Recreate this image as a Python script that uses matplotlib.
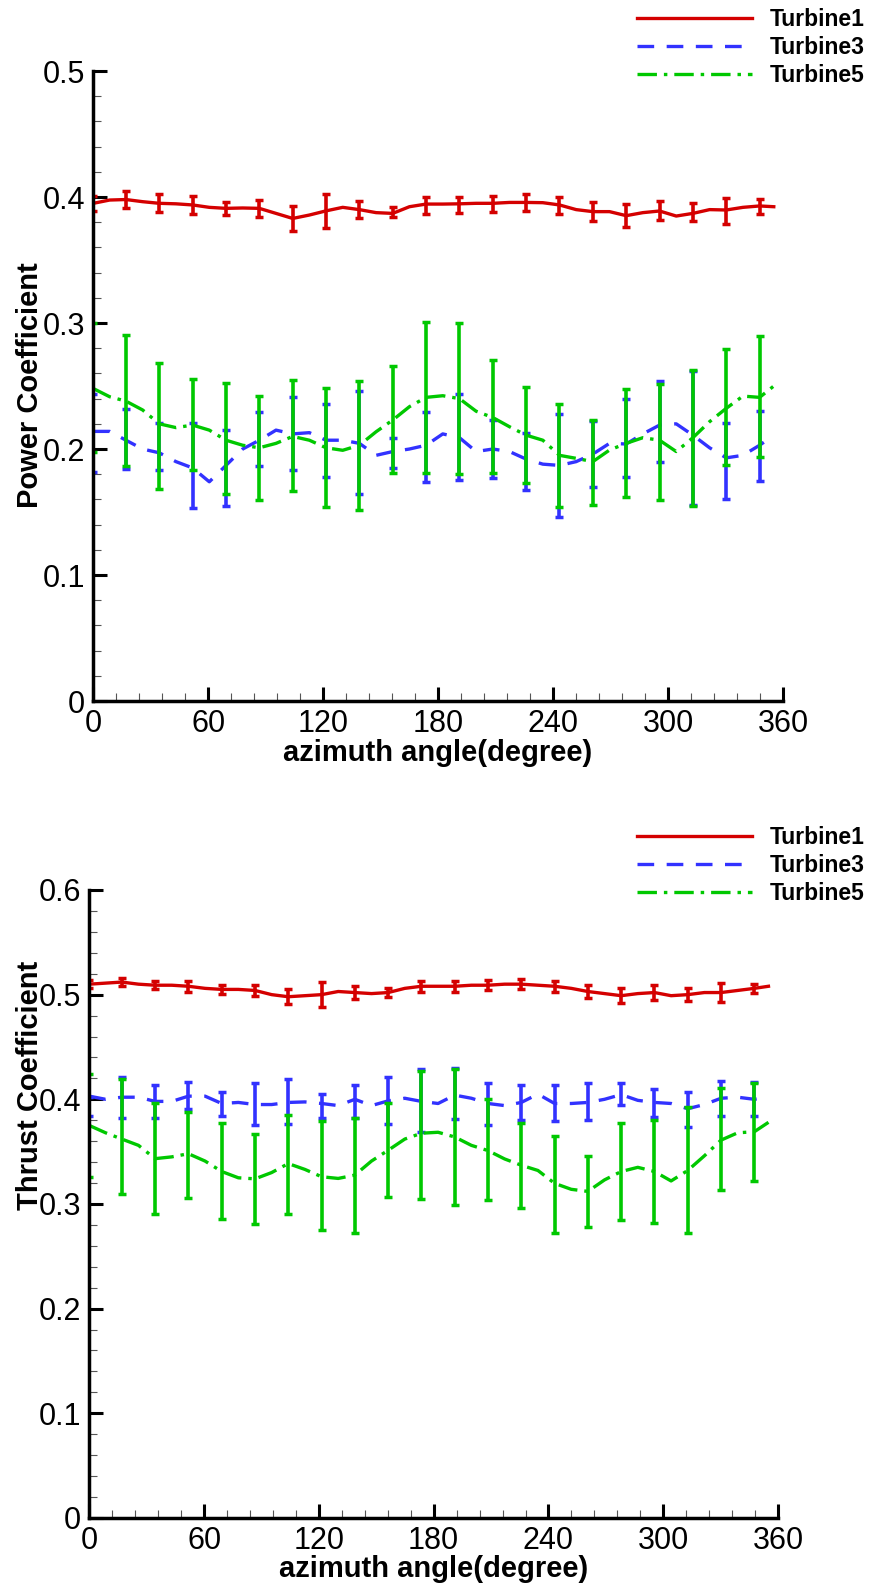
import matplotlib
matplotlib.use("Agg")
import matplotlib.pyplot as plt
from matplotlib.lines import Line2D
from matplotlib.ticker import MultipleLocator, FuncFormatter

plt.rcParams['font.family'] = ['Liberation Sans', 'DejaVu Sans']
plt.rcParams['lines.scale_dashes'] = False

# azimuth angle (deg) of the curve samples
theta = [0, 8.5, 17, 25.7, 34.4, 43.1, 51.8, 60.5, 69.2, 77.9, 86.6, 95.3, 104, 112.7,
         121.4, 130.1, 138.8, 147.5, 156.2, 164.9, 173.6, 182.3, 191, 199.7, 208.4, 217.1,
         225.8, 234.5, 243.2, 251.9, 260.6, 269.3, 278, 286.7, 295.4, 304.1, 312.8, 321.5,
         330.2, 338.9, 347.6, 355]
# azimuth angle (deg) of the error bars
theta_bar = [0, 17, 34.4, 51.8, 69.2, 86.6, 104, 121.4, 138.8, 156.2, 173.6, 191, 208.4,
             225.8, 243.2, 260.6, 278, 295.4, 312.8, 330.2, 347.6]

# power coefficient
cp1 = [0.395, 0.3976, 0.398, 0.3963, 0.395, 0.3946, 0.3937, 0.3918, 0.391, 0.3913, 0.391,
       0.387, 0.383, 0.3857, 0.389, 0.3918, 0.390, 0.3876, 0.387, 0.3923, 0.3944, 0.3944,
       0.3946, 0.395, 0.395, 0.3957, 0.3957, 0.3955, 0.3937, 0.390, 0.3884, 0.3884, 0.3852,
       0.3876, 0.3889, 0.3849, 0.387, 0.390, 0.3897, 0.3918, 0.3929, 0.3923]
cp1_mean = [0.395, 0.398, 0.395, 0.3937, 0.391, 0.391, 0.383, 0.389, 0.390, 0.388, 0.3934,
            0.394, 0.3946, 0.3957, 0.3934, 0.3884, 0.385, 0.389, 0.388, 0.389, 0.3923]
cp1_err = [0.006, 0.007, 0.007, 0.0073, 0.0053, 0.0065, 0.010, 0.0134, 0.007, 0.0042, 0.0069,
           0.0063, 0.0062, 0.0067, 0.0069, 0.0073, 0.0091, 0.0075, 0.0073, 0.0106, 0.0058]

cp3 = [0.214, 0.214, 0.207, 0.200, 0.197, 0.190, 0.185, 0.174, 0.187, 0.200, 0.207, 0.215,
       0.212, 0.213, 0.207, 0.207, 0.2045, 0.195, 0.198, 0.200, 0.203, 0.212, 0.209, 0.198,
       0.200, 0.198, 0.192, 0.188, 0.187, 0.190, 0.196, 0.2045, 0.204, 0.212, 0.219, 0.220,
       0.211, 0.201, 0.193, 0.195, 0.203, 0.211]
cp3_mean = [0.213, 0.208, 0.202, 0.187, 0.185, 0.208, 0.212, 0.207, 0.205, 0.197, 0.2015,
            0.2095, 0.200, 0.190, 0.187, 0.196, 0.2085, 0.2217, 0.2087, 0.1906, 0.2025]
cp3_err = [0.031, 0.024, 0.019, 0.034, 0.030, 0.0215, 0.029, 0.029, 0.041, 0.012, 0.028,
           0.034, 0.023, 0.0225, 0.041, 0.026, 0.031, 0.032, 0.053, 0.030, 0.028]

cp5 = [0.248, 0.2415, 0.238, 0.231, 0.220, 0.217, 0.219, 0.215, 0.207, 0.203, 0.201, 0.2045,
       0.210, 0.207, 0.201, 0.199, 0.203, 0.2137, 0.223, 0.2336, 0.241, 0.2423, 0.240, 0.230,
       0.225, 0.2177, 0.211, 0.207, 0.195, 0.1926, 0.190, 0.1992, 0.2045, 0.209, 0.207, 0.198,
       0.209, 0.2217, 0.2323, 0.242, 0.241, 0.250]
cp5_mean = [0.2488, 0.2385, 0.2184, 0.2193, 0.2082, 0.2008, 0.2108, 0.2012, 0.203, 0.2237,
            0.2411, 0.2398, 0.2257, 0.2109, 0.1946, 0.1892, 0.2048, 0.2057, 0.2087, 0.2332,
            0.2415]
cp5_err = [0.051, 0.052, 0.050, 0.036, 0.044, 0.041, 0.044, 0.047, 0.051, 0.0425, 0.060,
           0.060, 0.045, 0.038, 0.041, 0.034, 0.043, 0.046, 0.054, 0.046, 0.048]

# thrust coefficient
ct1 = [0.510, 0.511, 0.512, 0.510, 0.509, 0.509, 0.508, 0.506, 0.505, 0.505, 0.504, 0.500,
       0.498, 0.499, 0.500, 0.503, 0.502, 0.501, 0.502, 0.506, 0.508, 0.508, 0.508, 0.509,
       0.509, 0.510, 0.510, 0.509, 0.508, 0.506, 0.503, 0.501, 0.499, 0.501, 0.502, 0.499,
       0.500, 0.502, 0.502, 0.504, 0.506, 0.508]
ct1_mean = [0.510, 0.512, 0.509, 0.508, 0.505, 0.504, 0.498, 0.500, 0.502, 0.502, 0.508,
            0.508, 0.509, 0.510, 0.508, 0.503, 0.499, 0.502, 0.500, 0.502, 0.506]
ct1_err = [0.004, 0.004, 0.004, 0.005, 0.004, 0.005, 0.007, 0.012, 0.006, 0.004, 0.005,
           0.005, 0.005, 0.005, 0.005, 0.006, 0.007, 0.007, 0.006, 0.009, 0.004]

ct3 = [0.403, 0.400, 0.402, 0.402, 0.398, 0.398, 0.403, 0.403, 0.396, 0.397, 0.395, 0.395,
       0.397, 0.3975, 0.396, 0.394, 0.400, 0.394, 0.3985, 0.401, 0.398, 0.396, 0.404, 0.401,
       0.396, 0.394, 0.397, 0.405, 0.396, 0.396, 0.397, 0.400, 0.4045, 0.399, 0.397, 0.396,
       0.391, 0.395, 0.401, 0.402, 0.400, 0.402]
ct3_mean = [0.393, 0.4016, 0.3975, 0.4035, 0.3958, 0.3953, 0.398, 0.3933, 0.3981, 0.399,
            0.3985, 0.4055, 0.3958, 0.3969, 0.3966, 0.398, 0.4049, 0.3964, 0.3906, 0.4008,
            0.400]
ct3_err = [0.009, 0.0196, 0.0157, 0.013, 0.0115, 0.0198, 0.0216, 0.0115, 0.0155, 0.0225,
           0.030, 0.0245, 0.020, 0.0167, 0.017, 0.0178, 0.0102, 0.013, 0.0167, 0.0165, 0.0164]

ct5 = [0.375, 0.368, 0.362, 0.356, 0.3433, 0.345, 0.348, 0.341, 0.331, 0.325, 0.324, 0.330,
       0.3386, 0.333, 0.326, 0.3244, 0.3276, 0.341, 0.3513, 0.362, 0.3676, 0.3685, 0.364,
       0.356, 0.351, 0.343, 0.337, 0.332, 0.3197, 0.314, 0.312, 0.323, 0.331, 0.335, 0.331,
       0.322, 0.332, 0.346, 0.361, 0.368, 0.369, 0.378]
ct5_mean = [0.3748, 0.3644, 0.3437, 0.3465, 0.3314, 0.3236, 0.3378, 0.327, 0.3276, 0.3518,
            0.3659, 0.3638, 0.352, 0.3365, 0.3185, 0.3116, 0.3309, 0.331, 0.3325, 0.362, 0.369]
ct5_err = [0.049, 0.055, 0.053, 0.041, 0.046, 0.043, 0.047, 0.052, 0.055, 0.045, 0.061,
           0.065, 0.048, 0.0405, 0.046, 0.034, 0.0465, 0.0495, 0.060, 0.049, 0.047]

names = ['Turbine1', 'Turbine3', 'Turbine5']
colors = ['#d40000', '#3232ff', '#00c800']
dashes = ['-', (0, (12, 9)), (0, (14, 5, 2.5, 5))]


def draw_panel(ax, curves, bars, ymax):
    for (y, (m, e)), c, ls in zip(zip(curves, bars), colors, dashes):
        ax.errorbar(theta_bar, m, yerr=e, fmt='none', ecolor=c,
                    elinewidth=2.6, capsize=3.1, capthick=2.5)
        ax.plot(theta, y, color=c, ls=ls, lw=2.4)

    ax.set_xlim(0, 360)
    ax.set_ylim(0, ymax)
    ax.spines['top'].set_visible(False)
    ax.spines['right'].set_visible(False)
    ax.spines['left'].set_linewidth(2.5)
    ax.spines['bottom'].set_linewidth(2.5)
    ax.xaxis.set_major_locator(MultipleLocator(60))
    ax.xaxis.set_minor_locator(MultipleLocator(12))
    ax.yaxis.set_major_locator(MultipleLocator(0.1))
    ax.yaxis.set_minor_locator(MultipleLocator(0.02))
    ax.yaxis.set_major_formatter(FuncFormatter(lambda v, p: '0' if abs(v) < 1e-9 else '%.1f' % v))
    ax.tick_params(which='major', direction='in', length=10, width=2.2,
                   labelsize=22, pad=6)
    ax.tick_params(which='minor', direction='in', length=5.5, width=0.8, color='#555555')


def add_legend(x, y):
    handles = [Line2D([], [], color=c, ls=ls, lw=2.4) for c, ls in zip(colors, dashes)]
    fig.legend(handles, names, loc='upper left', bbox_to_anchor=(x, y),
               bbox_transform=fig.transFigure, frameon=False,
               prop={'weight': 'bold', 'size': 16.5},
               handlelength=5.0, handletextpad=0.8, labelspacing=0.22,
               borderpad=0, borderaxespad=0)


fig = plt.figure(figsize=(8.74, 15.85), dpi=100)
ax1 = fig.add_axes([0.1068, 0.5577, 0.7895, 0.3975])
ax2 = fig.add_axes([0.1022, 0.0423, 0.788, 0.3962])

draw_panel(ax1, [cp1, cp3, cp5], [(cp1_mean, cp1_err), (cp3_mean, cp3_err), (cp5_mean, cp5_err)], 0.5)
draw_panel(ax2, [ct1, ct3, ct5], [(ct1_mean, ct1_err), (ct3_mean, ct3_err), (ct5_mean, ct5_err)], 0.6)

fig.text(30 / 874, 1 - 385 / 1585, 'Power Coefficient', rotation=90, ha='center',
         va='center', fontsize=21, fontweight='bold')
fig.text(438 / 874, 1 - 753 / 1585, 'azimuth angle(degree)', ha='center', va='center',
         fontsize=21, fontweight='bold')
fig.text(30 / 874, 1 - 1085 / 1585, 'Thrust Coefficient', rotation=90, ha='center',
         va='center', fontsize=21, fontweight='bold')
fig.text(434 / 874, 1 - 1569 / 1585, 'azimuth angle(degree)', ha='center', va='center',
         fontsize=21, fontweight='bold')

add_legend(637 / 874, 1 - 8 / 1585)
add_legend(637 / 874, 1 - 826 / 1585)

fig.savefig('out.png', dpi=100)
